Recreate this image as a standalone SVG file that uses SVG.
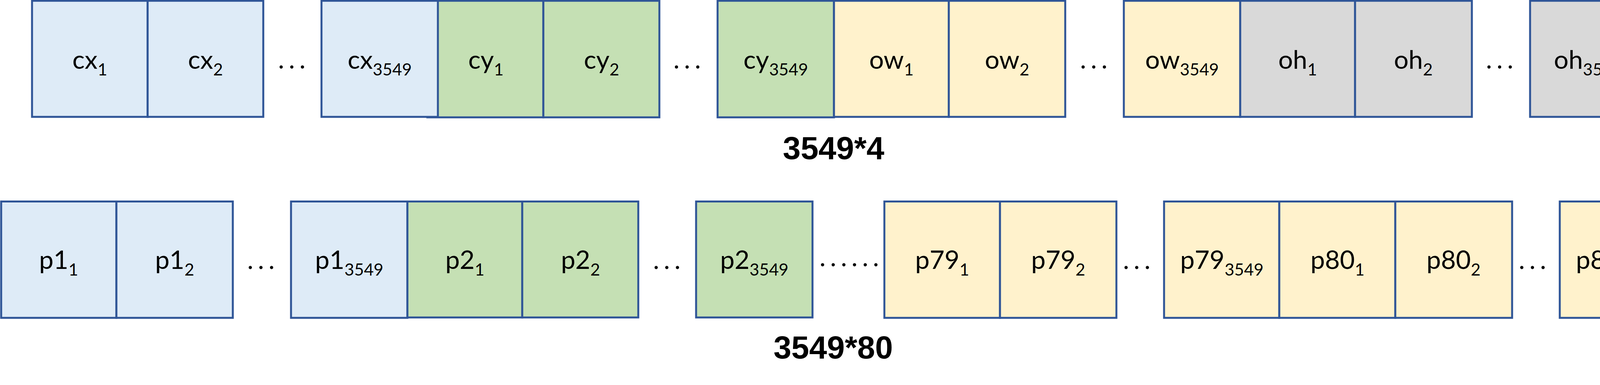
<svg xmlns="http://www.w3.org/2000/svg" width="4293" height="985" viewBox="0 0 4293 985">
<style>
.c{stroke:#2F5597;stroke-width:5}
.b{fill:#DEEBF7}.g{fill:#C5E0B4}.y{fill:#FFF2CC}.h{fill:#D9D9D9}
.t{font-family:Lato,"Noto Sans",sans-serif;font-size:66px;fill:#000;text-anchor:middle}
.s{font-size:43px}
.d{font-family:Lato,"Noto Sans",sans-serif;font-size:66px;fill:#000}
.L{font-family:"Liberation Sans",Arial,sans-serif;font-size:82px;font-weight:bold;fill:#000;text-anchor:middle}
</style>
<rect width="4293" height="985" fill="#fff"/>
<g id="row1">
<g id="cx1"><rect class="c b" x="82" y="2" width="296" height="297"/><text class="t" x="230" y="176">cx<tspan class="s" dy="17">1</tspan></text></g>
<g id="cx2"><rect class="c b" x="378" y="2" width="296" height="297"/><text class="t" x="526" y="176">cx<tspan class="s" dy="17">2</tspan></text></g>
<text id="dots1" class="d" x="712" y="175" textLength="70" lengthAdjust="spacing">...</text>
<g id="cy1"><rect class="c g" x="1094" y="2" width="297" height="298.2"/><text class="t" x="1244" y="176">cy<tspan class="s" dy="17">1</tspan></text></g>
<g id="cx3549"><rect class="c b" x="823" y="2" width="298" height="297"/><text class="t" x="972" y="176">cx<tspan class="s" dy="17">3549</tspan></text></g>
<g id="cy2"><rect class="c g" x="1391" y="2" width="297" height="298.2"/><text class="t" x="1540" y="176">cy<tspan class="s" dy="17">2</tspan></text></g>
<text id="dots2" class="d" x="1724" y="175" textLength="70" lengthAdjust="spacing">...</text>
<g id="cy3549"><rect class="c g" x="1837" y="2" width="298" height="298.2"/><text class="t" x="1986" y="176">cy<tspan class="s" dy="17">3549</tspan></text></g>
<g id="ow1"><rect class="c y" x="2135" y="2" width="294" height="297"/><text class="t" x="2282" y="176">ow<tspan class="s" dy="17">1</tspan></text></g>
<g id="ow2"><rect class="c y" x="2429" y="2" width="298" height="297"/><text class="t" x="2578" y="176">ow<tspan class="s" dy="17">2</tspan></text></g>
<text id="dots3" class="d" x="2765" y="175" textLength="70" lengthAdjust="spacing">...</text>
<g id="ow3549"><rect class="c y" x="2877" y="2" width="298" height="297"/><text class="t" x="3026" y="176">ow<tspan class="s" dy="17">3549</tspan></text></g>
<g id="oh1"><rect class="c h" x="3175" y="2" width="294" height="297"/><text class="t" x="3322" y="176">oh<tspan class="s" dy="17">1</tspan></text></g>
<g id="oh2"><rect class="c h" x="3469" y="2" width="299" height="297"/><text class="t" x="3618" y="176">oh<tspan class="s" dy="17">2</tspan></text></g>
<text id="dots4" class="d" x="3804" y="175" textLength="70" lengthAdjust="spacing">...</text>
<g id="oh3549"><rect class="c h" x="3917" y="2" width="297" height="297"/><text class="t" x="4065" y="176">oh<tspan class="s" dy="17">3549</tspan></text></g>
<text id="label1" class="L" x="2134" y="407">3549*4</text>
</g>
<g id="row2">
<g id="p1_1"><rect class="c b" x="3" y="515.5" width="295" height="297.7"/><text class="t" x="150" y="688">p1<tspan class="s" dy="17">1</tspan></text></g>
<g id="p1_2"><rect class="c b" x="298" y="515.5" width="298" height="297.7"/><text class="t" x="447" y="688">p1<tspan class="s" dy="17">2</tspan></text></g>
<text id="dots5" class="d" x="633" y="688" textLength="70" lengthAdjust="spacing">...</text>
<g id="p1_3549"><rect class="c b" x="745" y="515.5" width="298" height="297.7"/><text class="t" x="894" y="688">p1<tspan class="s" dy="17">3549</tspan></text></g>
<g id="p2_1"><rect class="c g" x="1043" y="515.5" width="294" height="296.7"/><text class="t" x="1190" y="688">p2<tspan class="s" dy="17">1</tspan></text></g>
<g id="p2_2"><rect class="c g" x="1337" y="515.5" width="297" height="296.7"/><text class="t" x="1486" y="688">p2<tspan class="s" dy="17">2</tspan></text></g>
<text id="dots6" class="d" x="1672" y="688" textLength="70" lengthAdjust="spacing">...</text>
<g id="p2_3549"><rect class="c g" x="1782" y="515.5" width="298" height="296.7"/><text class="t" x="1931" y="688">p2<tspan class="s" dy="17">3549</tspan></text></g>
<text id="dots7" class="d" x="2098" y="681" textLength="152" lengthAdjust="spacing">......</text>
<g id="p79_1"><rect class="c y" x="2264" y="515.5" width="296" height="297.7"/><text class="t" x="2412" y="688">p79<tspan class="s" dy="17">1</tspan></text></g>
<g id="p79_2"><rect class="c y" x="2560" y="515.5" width="298" height="297.7"/><text class="t" x="2709" y="688">p79<tspan class="s" dy="17">2</tspan></text></g>
<text id="dots8" class="d" x="2875" y="688" textLength="70" lengthAdjust="spacing">...</text>
<g id="p79_3549"><rect class="c y" x="2980" y="515.5" width="295" height="297.7"/><text class="t" x="3128" y="688">p79<tspan class="s" dy="17">3549</tspan></text></g>
<g id="p80_1"><rect class="c y" x="3275" y="515.5" width="297" height="297.7"/><text class="t" x="3424" y="688">p80<tspan class="s" dy="17">1</tspan></text></g>
<g id="p80_2"><rect class="c y" x="3572" y="515.5" width="299" height="297.7"/><text class="t" x="3721" y="688">p80<tspan class="s" dy="17">2</tspan></text></g>
<text id="dots9" class="d" x="3888" y="688" textLength="70" lengthAdjust="spacing">...</text>
<g id="p80_3549"><rect class="c y" x="3993" y="515.5" width="297" height="297.7"/><text class="t" x="4141" y="688">p80<tspan class="s" dy="17">3549</tspan></text></g>
<text id="label2" class="L" x="2133" y="917">3549*80</text>
</g>
</svg>
